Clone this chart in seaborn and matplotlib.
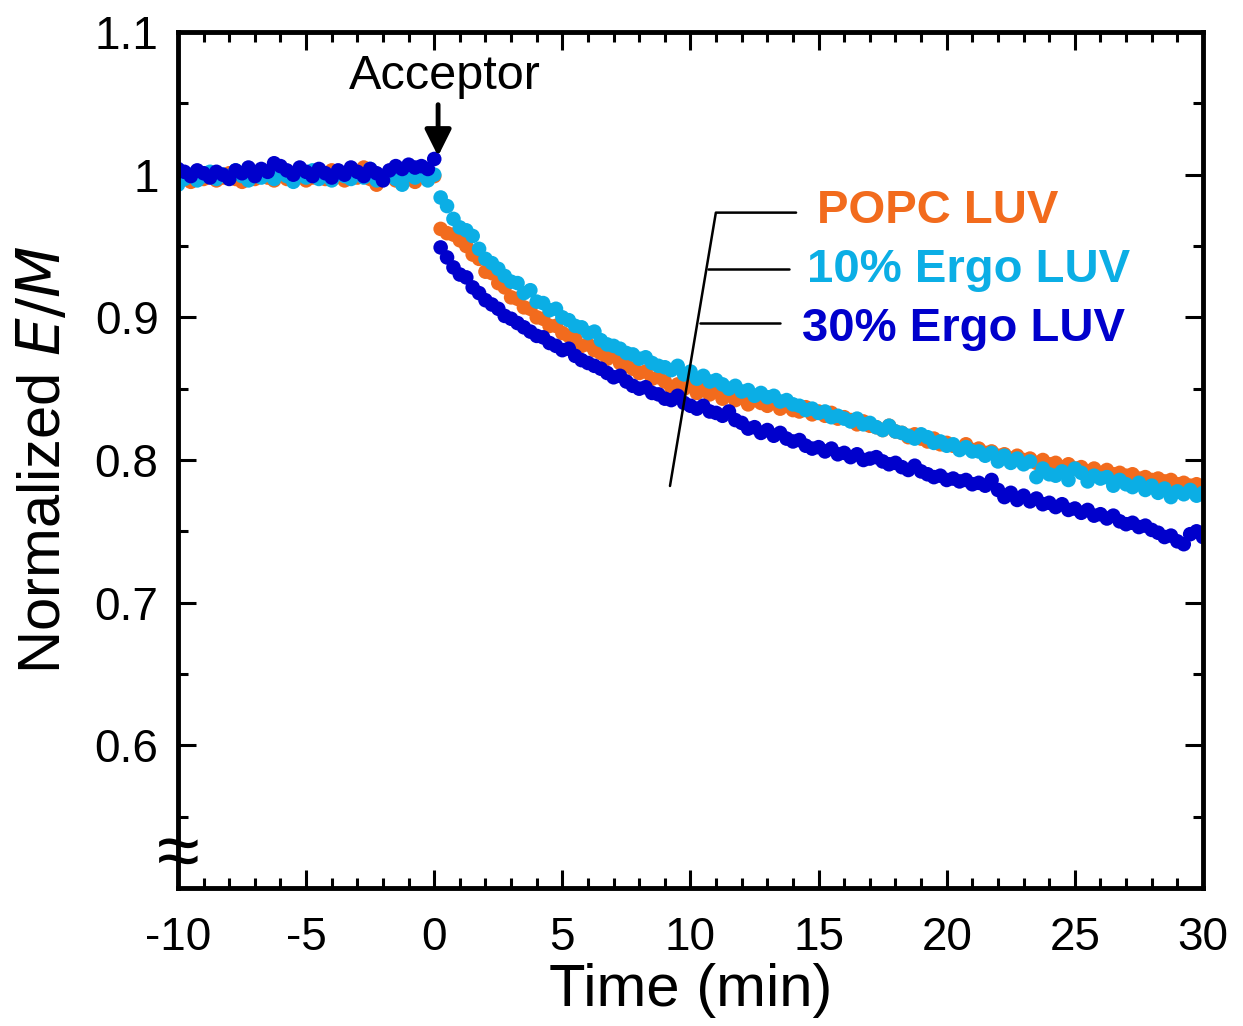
import numpy as np
import pandas as pd
import matplotlib
matplotlib.use('Agg')
import matplotlib.pyplot as plt
from matplotlib.ticker import MultipleLocator, FixedLocator, FuncFormatter
import seaborn as sns

# sampling grid (min), acceptor added at t = 0
time = np.arange(-40, 121) / 4

# POPC LUV
popc = [
    0.996, 0.998, 0.995, 0.999, 0.997, 1.000, 0.996, 0.998, 1.001, 0.997,
    0.995, 0.999, 0.997, 1.002, 0.998, 0.996, 1.000, 0.997, 0.999, 1.004,
    0.996, 0.998, 1.001, 0.997, 1.003, 0.999, 0.996, 1.000, 0.998, 1.005,
    0.997, 0.993, 0.999, 1.002, 0.996, 1.001, 0.998, 0.995, 0.999, 1.003, 0.999,
    0.962, 0.959, 0.958, 0.954, 0.950, 0.944, 0.941, 0.932,
    0.931, 0.924, 0.921, 0.914, 0.913, 0.907, 0.906, 0.900,
    0.899, 0.894, 0.894, 0.889, 0.887, 0.885, 0.880, 0.881,
    0.877, 0.875, 0.871, 0.873, 0.868, 0.866, 0.864, 0.861,
    0.862, 0.857, 0.858, 0.855, 0.851, 0.853, 0.850, 0.852,
    0.847, 0.849, 0.846, 0.848, 0.843, 0.846, 0.842, 0.844,
    0.839, 0.842, 0.840, 0.838, 0.841, 0.836, 0.838, 0.835,
    0.834, 0.837, 0.832, 0.834, 0.831, 0.833, 0.829, 0.830,
    0.828, 0.825, 0.827, 0.824, 0.823, 0.821, 0.824, 0.820,
    0.819, 0.816, 0.818, 0.815, 0.813, 0.815, 0.811, 0.812,
    0.810, 0.808, 0.811, 0.807, 0.808, 0.805, 0.806, 0.803,
    0.804, 0.801, 0.803, 0.800, 0.801, 0.798, 0.800, 0.797,
    0.798, 0.795, 0.797, 0.794, 0.795, 0.792, 0.794, 0.791,
    0.793, 0.790, 0.791, 0.789, 0.790, 0.787, 0.788, 0.786,
    0.787, 0.785, 0.786, 0.783, 0.784, 0.782, 0.783, 0.780,
]

# 10% Ergo LUV
ergo10 = [
    0.993, 0.997, 1.000, 0.996, 0.999, 1.002, 0.997, 1.000, 0.998, 1.003,
    0.999, 0.996, 1.001, 0.998, 1.000, 0.997, 1.002, 0.999, 0.995, 1.001,
    0.998, 1.003, 0.997, 1.000, 0.996, 1.002, 0.999, 0.997, 1.001, 0.998,
    1.004, 0.996, 0.999, 1.002, 0.997, 0.993, 1.000, 0.998, 1.002, 0.996, 1.000,
    0.984, 0.978, 0.969, 0.963, 0.961, 0.957, 0.948, 0.941,
    0.938, 0.934, 0.929, 0.925, 0.924, 0.917, 0.919, 0.911,
    0.910, 0.905, 0.906, 0.900, 0.898, 0.894, 0.893, 0.889,
    0.890, 0.884, 0.881, 0.880, 0.878, 0.875, 0.874, 0.871,
    0.872, 0.868, 0.866, 0.865, 0.863, 0.866, 0.860, 0.862,
    0.857, 0.859, 0.855, 0.856, 0.853, 0.850, 0.852, 0.848,
    0.849, 0.845, 0.847, 0.844, 0.845, 0.841, 0.842, 0.839,
    0.838, 0.835, 0.836, 0.833, 0.834, 0.830, 0.831, 0.829,
    0.827, 0.829, 0.825, 0.826, 0.823, 0.821, 0.824, 0.820,
    0.819, 0.817, 0.815, 0.818, 0.816, 0.812, 0.813, 0.810,
    0.811, 0.807, 0.809, 0.806, 0.806, 0.803, 0.805, 0.799,
    0.803, 0.798, 0.801, 0.797, 0.799, 0.788, 0.794, 0.790,
    0.789, 0.792, 0.786, 0.794, 0.791, 0.785, 0.789, 0.787,
    0.788, 0.782, 0.786, 0.783, 0.781, 0.784, 0.779, 0.782,
    0.777, 0.780, 0.774, 0.778, 0.776, 0.779, 0.775, 0.777,
]

# 30% Ergo LUV
ergo30 = [
    1.004, 1.002, 0.999, 1.003, 1.001, 0.998, 1.002, 1.000, 0.997, 1.003,
    1.001, 1.005, 0.999, 1.004, 1.002, 1.008, 1.006, 1.003, 1.000, 1.005,
    1.002, 0.999, 1.004, 1.001, 0.998, 1.003, 1.000, 1.005, 1.002, 0.999,
    1.004, 1.001, 0.996, 1.003, 1.006, 1.004, 1.007, 1.005, 1.006, 1.004, 1.011,
    0.949, 0.942, 0.935, 0.930, 0.928, 0.921, 0.917, 0.912,
    0.909, 0.906, 0.901, 0.899, 0.896, 0.893, 0.890, 0.887,
    0.886, 0.882, 0.880, 0.877, 0.878, 0.873, 0.870, 0.868,
    0.866, 0.864, 0.861, 0.858, 0.859, 0.855, 0.852, 0.850,
    0.851, 0.847, 0.846, 0.843, 0.842, 0.845, 0.840, 0.838,
    0.836, 0.838, 0.834, 0.833, 0.831, 0.834, 0.828, 0.826,
    0.822, 0.823, 0.819, 0.821, 0.817, 0.819, 0.815, 0.813,
    0.814, 0.810, 0.808, 0.809, 0.806, 0.808, 0.804, 0.805,
    0.802, 0.804, 0.800, 0.801, 0.802, 0.799, 0.797, 0.798,
    0.795, 0.793, 0.796, 0.792, 0.790, 0.788, 0.789, 0.786,
    0.787, 0.785, 0.786, 0.783, 0.784, 0.782, 0.786, 0.779,
    0.774, 0.777, 0.772, 0.775, 0.771, 0.773, 0.769, 0.770,
    0.767, 0.769, 0.765, 0.766, 0.763, 0.765, 0.761, 0.762,
    0.759, 0.761, 0.757, 0.755, 0.756, 0.753, 0.754, 0.751,
    0.749, 0.746, 0.747, 0.743, 0.741, 0.748, 0.750, 0.746,
]

labels = ['POPC LUV', '10% Ergo LUV', '30% Ergo LUV']
colors = ['#F26B1D', '#0BAEE5', '#0000CC']

df = pd.DataFrame({
    'time': np.concatenate([time, time, time]),
    'em': np.concatenate([popc, ergo10, ergo30]),
    'sample': np.repeat(labels, len(time)),
})

sns.set_style('ticks')
plt.rcParams['font.family'] = ['Liberation Sans', 'DejaVu Sans']
plt.rcParams['axes.unicode_minus'] = False
plt.rcParams['text.color'] = 'black'
plt.rcParams['axes.labelcolor'] = 'black'
plt.rcParams['xtick.color'] = 'black'
plt.rcParams['ytick.color'] = 'black'
plt.rcParams['axes.edgecolor'] = 'black'

fig = plt.figure(figsize=(12.43, 10.26), dpi=100)
ax = fig.add_axes([0.1432, 0.1345, 0.8246, 0.8343])

sns.scatterplot(data=df, x='time', y='em', hue='sample', palette=colors,
                s=110, linewidth=0, alpha=1, legend=False, ax=ax)

ax.set_xlim(-10, 30)
ax.set_ylim(0.5, 1.1)
ax.xaxis.set_major_locator(MultipleLocator(5))
ax.xaxis.set_minor_locator(MultipleLocator(1))
ax.yaxis.set_major_locator(FixedLocator([0.6, 0.7, 0.8, 0.9, 1.0, 1.1]))
ax.yaxis.set_minor_locator(MultipleLocator(0.05))
ax.yaxis.set_major_formatter(FuncFormatter(lambda v, p: '%g' % round(v, 2)))
ax.tick_params(which='both', direction='in', top=True, right=True,
               width=2.2, labelsize=33)
ax.tick_params(axis='x', pad=20)
ax.tick_params(axis='y', pad=14)
ax.tick_params(which='major', length=13)
ax.tick_params(which='minor', length=7)
for sp in ax.spines.values():
    sp.set_linewidth(3.5)

ax.set_xlabel('Time (min)', fontsize=43, labelpad=2)
ax.set_ylabel('Normalized $\\it{E/M}$', fontsize=43, labelpad=16)

# acceptor arrow
ax.annotate('', xy=(0.15, 1.011), xytext=(0.15, 1.051),
            arrowprops=dict(arrowstyle='-|>', color='black', lw=3.5,
                            mutation_scale=40))
ax.text(0.4, 1.069, 'Acceptor', fontsize=35, ha='center', va='center')

# series labels with leader lines
ax.plot([9.2, 10.99, 14.12], [0.7818, 0.9734, 0.9734], color='black', lw=1.8)
ax.plot([10.68, 13.84], [0.9336, 0.9336], color='black', lw=1.8)
ax.plot([10.37, 13.49], [0.8958, 0.8958], color='black', lw=1.8)
ax.text(14.95, 0.9745, labels[0], color=colors[0], fontsize=34,
        fontweight='bold', va='center')
ax.text(14.55, 0.9335, labels[1], color=colors[1], fontsize=34,
        fontweight='bold', va='center')
ax.text(14.35, 0.8915, labels[2], color=colors[2], fontsize=34,
        fontweight='bold', va='center')

# axis break mark
ax.text(-10, 0.522, '\u2248', fontsize=56, ha='center', va='center',
        clip_on=False)

fig.savefig('out.png', dpi=100)
